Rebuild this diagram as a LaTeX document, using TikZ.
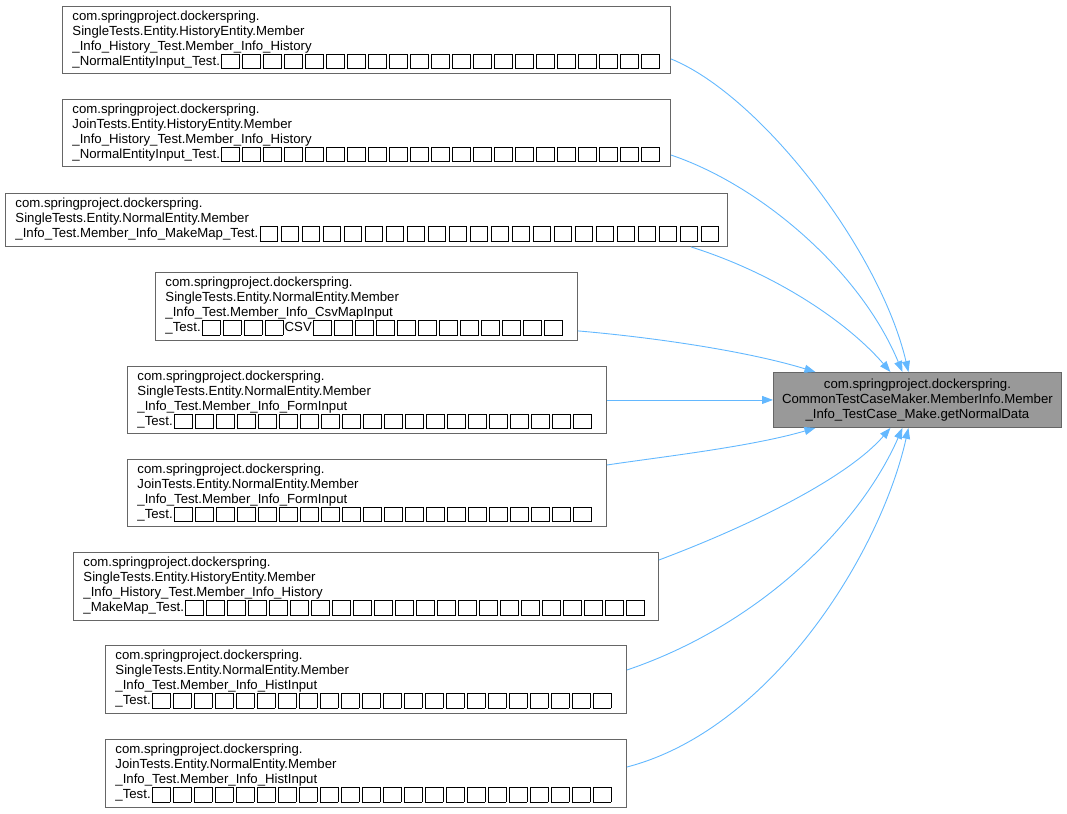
\documentclass[tikz,border=0pt]{standalone}
\usepackage{fontspec}
\setmainfont{Liberation Sans}
\usetikzlibrary{arrows.meta,calc}
\definecolor{edgeblue}{HTML}{63B8FF}
\definecolor{boxborder}{HTML}{666666}
\definecolor{mainfill}{HTML}{999999}
\newcommand\tf{\kern1.2pt{\setlength\fboxsep{0pt}\setlength\fboxrule{0.8pt}\fbox{\rule[-3pt]{0pt}{14pt}\hspace{17pt}}}\kern1.2pt}
\newcommand\tofus[1]{\foreach \i in {1,...,#1}{\tf}}
\begin{document}
\begin{tikzpicture}[x=1pt,y=-1pt,
  font=\fontsize{13.2}{15}\selectfont,
  srcbox/.style={draw=boxborder, line width=0.9pt, fill=white, anchor=north west,
    align=left, inner xsep=10pt, inner ysep=0pt},
  mainbox/.style={draw=boxborder, line width=0.9pt, fill=mainfill, anchor=north west,
    align=center, inner xsep=0pt, inner ysep=0pt},
  edge/.style={draw=edgeblue, line width=0.9pt, -{Triangle[length=11pt,width=8pt]}}]
\useasboundingbox (0,0) rectangle (1067,813);

\node[mainbox, minimum width=288pt, minimum height=55pt, text width=288pt] (T) at (773,372)
  {com.springproject.dockerspring.\\CommonTestCaseMaker.MemberInfo.Member\\\_Info\_TestCase\_Make.getNormalData};

\node[srcbox, text width=588pt, minimum height=67pt] (B1) at (62,6)
  {com.springproject.dockerspring.\\SingleTests.Entity.HistoryEntity.Member\\\_Info\_History\_Test.Member\_Info\_History\\\_NormalEntityInput\_Test.\tofus{21}};
\node[srcbox, text width=588pt, minimum height=67pt] (B2) at (62,99)
  {com.springproject.dockerspring.\\JoinTests.Entity.HistoryEntity.Member\\\_Info\_History\_Test.Member\_Info\_History\\\_NormalEntityInput\_Test.\tofus{21}};
\node[srcbox, text width=702pt, minimum height=53pt] (B3) at (5,193)
  {com.springproject.dockerspring.\\SingleTests.Entity.NormalEntity.Member\\\_Info\_Test.Member\_Info\_MakeMap\_Test.\tofus{22}};
\node[srcbox, text width=402pt, minimum height=68pt] (B4) at (155,272)
  {com.springproject.dockerspring.\\SingleTests.Entity.NormalEntity.Member\\\_Info\_Test.Member\_Info\_CsvMapInput\\\_Test.\tofus{4}CSV\tofus{12}};
\node[srcbox, text width=459pt, minimum height=67pt] (B5) at (127,366)
  {com.springproject.dockerspring.\\SingleTests.Entity.NormalEntity.Member\\\_Info\_Test.Member\_Info\_FormInput\\\_Test.\tofus{20}};
\node[srcbox, text width=459pt, minimum height=67pt] (B6) at (127,459)
  {com.springproject.dockerspring.\\JoinTests.Entity.NormalEntity.Member\\\_Info\_Test.Member\_Info\_FormInput\\\_Test.\tofus{20}};
\node[srcbox, text width=565pt, minimum height=68pt] (B7) at (73,552)
  {com.springproject.dockerspring.\\SingleTests.Entity.HistoryEntity.Member\\\_Info\_History\_Test.Member\_Info\_History\\\_MakeMap\_Test.\tofus{22}};
\node[srcbox, text width=501pt, minimum height=68pt] (B8) at (105,645)
  {com.springproject.dockerspring.\\SingleTests.Entity.NormalEntity.Member\\\_Info\_Test.Member\_Info\_HistInput\\\_Test.\tofus{22}};
\node[srcbox, text width=501pt, minimum height=68pt] (B9) at (105,739)
  {com.springproject.dockerspring.\\JoinTests.Entity.NormalEntity.Member\\\_Info\_Test.Member\_Info\_HistInput\\\_Test.\tofus{22}};

\draw[edge] ([yshift=15pt]B1.south east) .. controls (760,95) and (880,250) .. ([xshift=-9pt]T.north);
\draw[edge] ([yshift=-56pt]B2.north east) .. controls (760,185) and (860,270) .. ([xshift=-15pt]T.north);
\draw[edge] ([xshift=-37pt]B3.south east) .. controls (780,275) and (850,325) .. ([xshift=-27pt]T.north);
\draw[edge] ([yshift=10pt]B4.south east) .. controls (660,338) and (750,352) .. ([xshift=-102pt]T.north);
\draw[edge] (B5.east) -- (T.west);
\draw[edge] ([yshift=-6pt]B6.north east) .. controls (660,457) and (750,447) .. ([xshift=-102pt]T.south);
\draw[edge] ([yshift=-8pt]B7.north east) .. controls (760,522) and (850,475) .. ([xshift=-27pt]T.south);
\draw[edge] ([yshift=-25pt]B8.north east) .. controls (760,625) and (860,525) .. ([xshift=-15pt]T.south);
\draw[edge] ([yshift=-28pt]B9.north east) .. controls (770,730) and (880,555) .. ([xshift=-9pt]T.south);
\end{tikzpicture}
\end{document}
